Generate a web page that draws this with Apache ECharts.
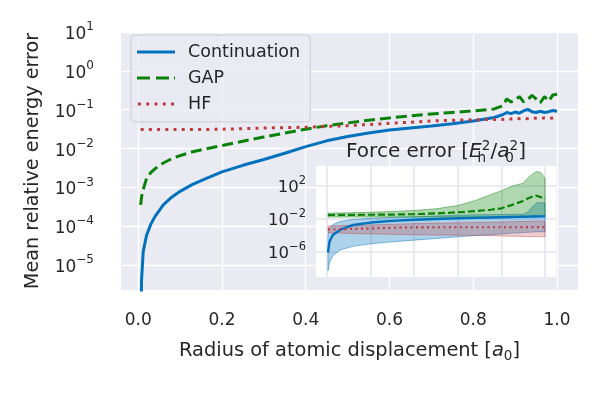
<!DOCTYPE html>
<html><head><meta charset="utf-8">
<script src="https://cdn.jsdelivr.net/npm/echarts@6/dist/echarts.min.js"></script>
<style>html,body{margin:0;padding:0;background:#fff}#c{width:599px;height:394px}</style>
</head><body><div id="c"></div>
<script>
// ---- Main panel: x positions and log10 of mean relative energy error ----
const mainX = [0.006,0.008,0.012,0.02,0.03,0.04,0.06,0.08,0.1,0.13,0.16,0.2,0.25,0.3,0.35,0.4,0.45,0.5,0.55,0.6,0.65,0.7,0.75,0.8,0.85,0.87,0.88,0.89,0.9,0.91,0.92,0.93,0.94,0.95,0.96,0.97,0.98,0.99,1.0];
const continuationLog = [-7.0,-5.4,-4.65,-4.23,-3.95,-3.75,-3.45,-3.25,-3.10,-2.92,-2.78,-2.60,-2.43,-2.28,-2.12,-1.95,-1.80,-1.69,-1.60,-1.52,-1.47,-1.42,-1.36,-1.29,-1.20,-1.13,-1.07,-1.10,-1.06,-1.09,-1.03,-0.99,-1.05,-1.07,-1.04,-1.07,-1.05,-1.02,-1.04];
const gapLog = [-3.45,-3.25,-3.05,-2.77,-2.62,-2.52,-2.37,-2.26,-2.18,-2.08,-2.01,-1.92,-1.81,-1.70,-1.60,-1.50,-1.41,-1.34,-1.27,-1.21,-1.16,-1.11,-1.07,-1.03,-0.98,-0.90,-0.72,-0.80,-0.76,-0.66,-0.80,-0.74,-0.63,-0.72,-0.82,-0.66,-0.78,-0.62,-0.60];
const hfLog = [-1.51,-1.51,-1.51,-1.51,-1.51,-1.51,-1.51,-1.51,-1.51,-1.51,-1.51,-1.50,-1.49,-1.47,-1.46,-1.45,-1.43,-1.41,-1.38,-1.35,-1.32,-1.29,-1.27,-1.26,-1.25,-1.25,-1.23,-1.24,-1.22,-1.23,-1.22,-1.23,-1.21,-1.22,-1.22,-1.21,-1.22,-1.21,-1.20];

// ---- Inset: force error, log10 of median / upper / lower ----
const insetX = [0.005,0.012,0.027,0.06,0.12,0.2,0.3,0.4,0.5,0.6,0.68,0.75,0.8,0.85,0.87,0.9,0.92,0.94,0.96,0.98,1.0];
const fContMed = [-6.1,-4.79,-3.98,-3.37,-2.76,-2.47,-2.27,-2.13,-2.03,-1.95,-1.90,-1.86,-1.82,-1.79,-1.78,-1.76,-1.75,-1.74,-1.73,-1.72,-1.71];
const fContHi  = [-4.0,-3.2,-2.7,-2.35,-2.08,-1.95,-1.85,-1.77,-1.68,-1.58,-1.53,-1.50,-1.48,-1.47,-1.46,-1.45,-1.2,-0.6,-0.1,-0.06,-0.06];
const fContLo  = [-8.3,-7.3,-6.5,-5.8,-5.35,-5.05,-4.8,-4.6,-4.4,-4.2,-4.05,-3.95,-3.85,-3.75,-3.72,-3.68,-3.65,-3.62,-3.60,-3.58,-3.57];
const fGapMed  = [-1.55,-1.55,-1.55,-1.54,-1.53,-1.52,-1.50,-1.45,-1.36,-1.22,-1.08,-0.92,-0.74,-0.32,-0.12,0.15,0.45,0.65,0.79,0.62,0.39];
const fGapHi   = [-1.32,-1.32,-1.31,-1.30,-1.27,-1.22,-1.13,-1.00,-0.80,-0.40,0.20,0.90,1.40,1.95,2.10,2.30,2.90,3.35,3.72,3.60,2.90];
const fGapLo   = [-1.80,-1.80,-1.80,-1.80,-1.80,-1.80,-1.80,-1.80,-1.80,-1.80,-1.80,-1.80,-1.80,-1.80,-1.80,-1.80,-1.80,-1.78,-1.76,-1.74,-1.72];
const fHfMed   = [-3.30,-3.30,-3.29,-3.27,-3.24,-3.18,-3.10,-3.05,-3.04,-3.04,-3.04,-3.04,-3.04,-3.04,-3.04,-3.03,-3.03,-3.03,-3.03,-3.03,-3.03];
const fHfHi    = [-2.90,-2.90,-2.88,-2.85,-2.80,-2.75,-2.68,-2.60,-2.55,-2.50,-2.46,-2.43,-2.40,-2.37,-2.36,-2.34,-2.33,-2.32,-2.31,-2.30,-2.30];
const fHfLo    = [-3.70,-3.70,-3.72,-3.75,-3.80,-3.85,-3.90,-3.95,-3.98,-4.00,-4.03,-4.06,-4.09,-4.12,-4.13,-4.15,-4.16,-4.17,-4.18,-4.19,-4.20];

const seriesNames = ['Continuation','GAP','HF'];
const insetTickExps = [-6,-2,2];

const BLUE = '#0072BD', GREEN = '#0A820A', RED = '#C03A3D', FG = '#262626';
const FONT = 'DejaVu Sans';

const pts = (xs, logs) => xs.map((x, i) => [x, Math.pow(10, logs[i])]);

function powLabel(v, allowed) {
  const l = Math.log10(v), e = Math.round(l);
  if (Math.abs(l - e) > 0.01) return '';
  if (allowed && allowed.indexOf(e) < 0) return '';
  return '{b|10}{s|' + (e < 0 ? '\u2212' + (-e) : String(e)) + '}';
}
function richTick(size, sup) {
  return {
    b: {fontSize: size, fontFamily: FONT, color: FG, lineHeight: 22, verticalAlign: 'bottom'},
    s: {fontSize: sup, fontFamily: FONT, color: FG, lineHeight: 14, verticalAlign: 'top'}
  };
}

// shaded band between lower and upper curves, positioned through the inset axes
function band(name, lo, hi, fill, stroke) {
  return {
    name: name, type: 'custom', xAxisIndex: 1, yAxisIndex: 1, silent: true, z: 5,
    data: pts(insetX, hi), encode: {x: 0, y: 1},
    renderItem: (params, api) => {
      if (params.dataIndex !== 0) return null;
      const up = insetX.map((x, i) => api.coord([x, Math.pow(10, hi[i])]));
      const dn = insetX.map((x, i) => api.coord([x, Math.pow(10, lo[i])])).reverse();
      return {type: 'polygon', shape: {points: up.concat(dn)},
              style: {fill: fill, stroke: stroke, lineWidth: 1}};
    }
  };
}

const legendIcons = {
  'Continuation': 'path://M0,0H38V3H0Z',
  'GAP': 'path://M0,0H13V3H0Z M19,0H32V3H19Z M37,0H38V3H37Z',
  'HF': 'path://M0,0H3V3H0Z M8.3,0H11.3V3H8.3Z M16.6,0H19.6V3H16.6Z M24.9,0H27.9V3H24.9Z M33.2,0H36.2V3H33.2Z'
};

const chart = echarts.init(document.getElementById('c'), null, {renderer: 'canvas'});
chart.setOption({
  animation: false,
  backgroundColor: '#ffffff',
  title: {
    text: 'Force error [{i|E}{sub|h}{sup|2}/{i|a}{sub|0}{sup|2}]',
    left: 436, top: 139, textAlign: 'center', padding: 0,
    textStyle: {
      fontSize: 20, fontWeight: 'normal', fontFamily: FONT, color: FG, lineHeight: 26,
      rich: {
        i: {fontSize: 20, fontStyle: 'italic', fontFamily: FONT, color: FG, lineHeight: 26},
        sub: {fontSize: 13.5, fontFamily: FONT, color: FG, lineHeight: 12, verticalAlign: 'bottom', width: 0.1},
        sup: {fontSize: 13.5, fontFamily: FONT, color: FG, lineHeight: 16, verticalAlign: 'top'}
      }
    }
  },
  legend: {
    data: seriesNames.map(n => ({name: n, icon: legendIcons[n]})),
    orient: 'vertical', left: 131, top: 35,
    padding: [8, 10, 9, 6], itemWidth: 38, itemHeight: 3, itemGap: 8,
    backgroundColor: 'rgba(234,234,242,0.8)', borderColor: '#CDCDD4', borderWidth: 1, borderRadius: 4,
    textStyle: {fontSize: 17.5, color: FG, fontFamily: FONT, lineHeight: 15, padding: [0, 0, 0, 8]}
  },
  grid: [
    {left: 121, right: 21, top: 32, bottom: 104, show: true, backgroundColor: '#EAEAF2', borderWidth: 0},
    {left: 316, width: 240, top: 166, height: 111, show: true, backgroundColor: '#FFFFFF', borderWidth: 0, z: 3}
  ],
  xAxis: [
    {type: 'value', gridIndex: 0, min: -0.041, max: 1.05, minInterval: 0.2, maxInterval: 0.2,
     axisLine: {show: false}, axisTick: {show: false},
     splitLine: {show: true, showMinLine: false, showMaxLine: false, lineStyle: {color: '#FFFFFF', width: 1.4}},
     axisLabel: {fontSize: 17, fontFamily: FONT, color: FG, margin: 22,
       formatter: v => { const k = Math.round(v / 0.2); return Math.abs(v - k * 0.2) < 1e-6 && v >= 0 && v <= 1 ? v.toFixed(1) : ''; }},
     name: 'Radius of atomic displacement [{i|a}{u|0}]', nameLocation: 'middle', nameGap: 49,
     nameTextStyle: {fontSize: 19.4, fontFamily: FONT, color: FG, lineHeight: 24,
       rich: {i: {fontSize: 19.4, fontStyle: 'italic', fontFamily: FONT, color: FG, lineHeight: 24},
              u: {fontSize: 13.5, fontFamily: FONT, color: FG, lineHeight: 14, verticalAlign: 'bottom'}}}},
    {type: 'value', gridIndex: 1, min: -0.05, max: 1.05, minInterval: 0.2, maxInterval: 0.2, z: 4,
     axisLine: {show: false}, axisTick: {show: false}, axisLabel: {show: false},
     splitLine: {show: true, showMinLine: false, showMaxLine: false, lineStyle: {color: '#E5E5EE', width: 1.6}}}
  ],
  yAxis: [
    {type: 'log', gridIndex: 0, min: 2.3e-6, max: 10, logBase: 10,
     axisLine: {show: false}, axisTick: {show: false},
     splitLine: {show: true, showMinLine: false, lineStyle: {color: '#FFFFFF', width: 1.4}},
     axisLabel: {margin: 27, formatter: v => powLabel(v), rich: richTick(17, 12), showMinLabel: false},
     name: 'Mean relative energy error', nameLocation: 'middle', nameGap: 78,
     nameTextStyle: {fontSize: 19.2, fontFamily: FONT, color: FG}},
    {type: 'log', gridIndex: 1, min: 8.5e-10, max: 24500, logBase: 100, z: 4,
     axisLine: {show: false}, axisTick: {show: false},
     splitLine: {show: true, showMinLine: false, showMaxLine: false,
       lineStyle: {color: ['rgba(0,0,0,0)', '#E5E5EE'], width: 1.6}},
     axisLabel: {margin: 10, formatter: v => powLabel(v, insetTickExps), rich: richTick(16.5, 11.5),
       showMinLabel: false, showMaxLabel: false}}
  ],
  series: [
    {name: 'Continuation', type: 'line', xAxisIndex: 0, yAxisIndex: 0, data: pts(mainX, continuationLog),
     symbol: 'none', showSymbol: false, z: 2, itemStyle: {color: BLUE},
     lineStyle: {color: BLUE, width: 3}},
    {name: 'GAP', type: 'line', xAxisIndex: 0, yAxisIndex: 0, data: pts(mainX, gapLog),
     symbol: 'none', showSymbol: false, z: 2, itemStyle: {color: GREEN},
     lineStyle: {color: GREEN, width: 3, type: [11, 5], cap: 'butt'}},
    {name: 'HF', type: 'line', xAxisIndex: 0, yAxisIndex: 0, data: pts(mainX, hfLog),
     symbol: 'none', showSymbol: false, z: 2, itemStyle: {color: RED},
     lineStyle: {color: RED, width: 3, type: [3, 5.2], cap: 'butt'}},
    band('Continuation force band', fContLo, fContHi, 'rgba(0,114,189,0.32)', 'rgba(0,114,189,0.45)'),
    band('GAP force band', fGapLo, fGapHi, 'rgba(10,130,10,0.32)', 'rgba(10,130,10,0.45)'),
    band('HF force band', fHfLo, fHfHi, 'rgba(192,58,61,0.26)', 'rgba(192,58,61,0.4)'),
    {name: 'Continuation force', type: 'line', xAxisIndex: 1, yAxisIndex: 1, data: pts(insetX, fContMed),
     symbol: 'none', showSymbol: false, z: 6, lineStyle: {color: BLUE, width: 2.4}},
    {name: 'GAP force', type: 'line', xAxisIndex: 1, yAxisIndex: 1, data: pts(insetX, fGapMed),
     symbol: 'none', showSymbol: false, z: 6, lineStyle: {color: GREEN, width: 2.2, type: [7, 3], cap: 'butt'}},
    {name: 'HF force', type: 'line', xAxisIndex: 1, yAxisIndex: 1, data: pts(insetX, fHfMed),
     symbol: 'none', showSymbol: false, z: 6, lineStyle: {color: RED, width: 2.2, type: [2, 3.5], cap: 'butt'}}
  ]
});
</script></body></html>
